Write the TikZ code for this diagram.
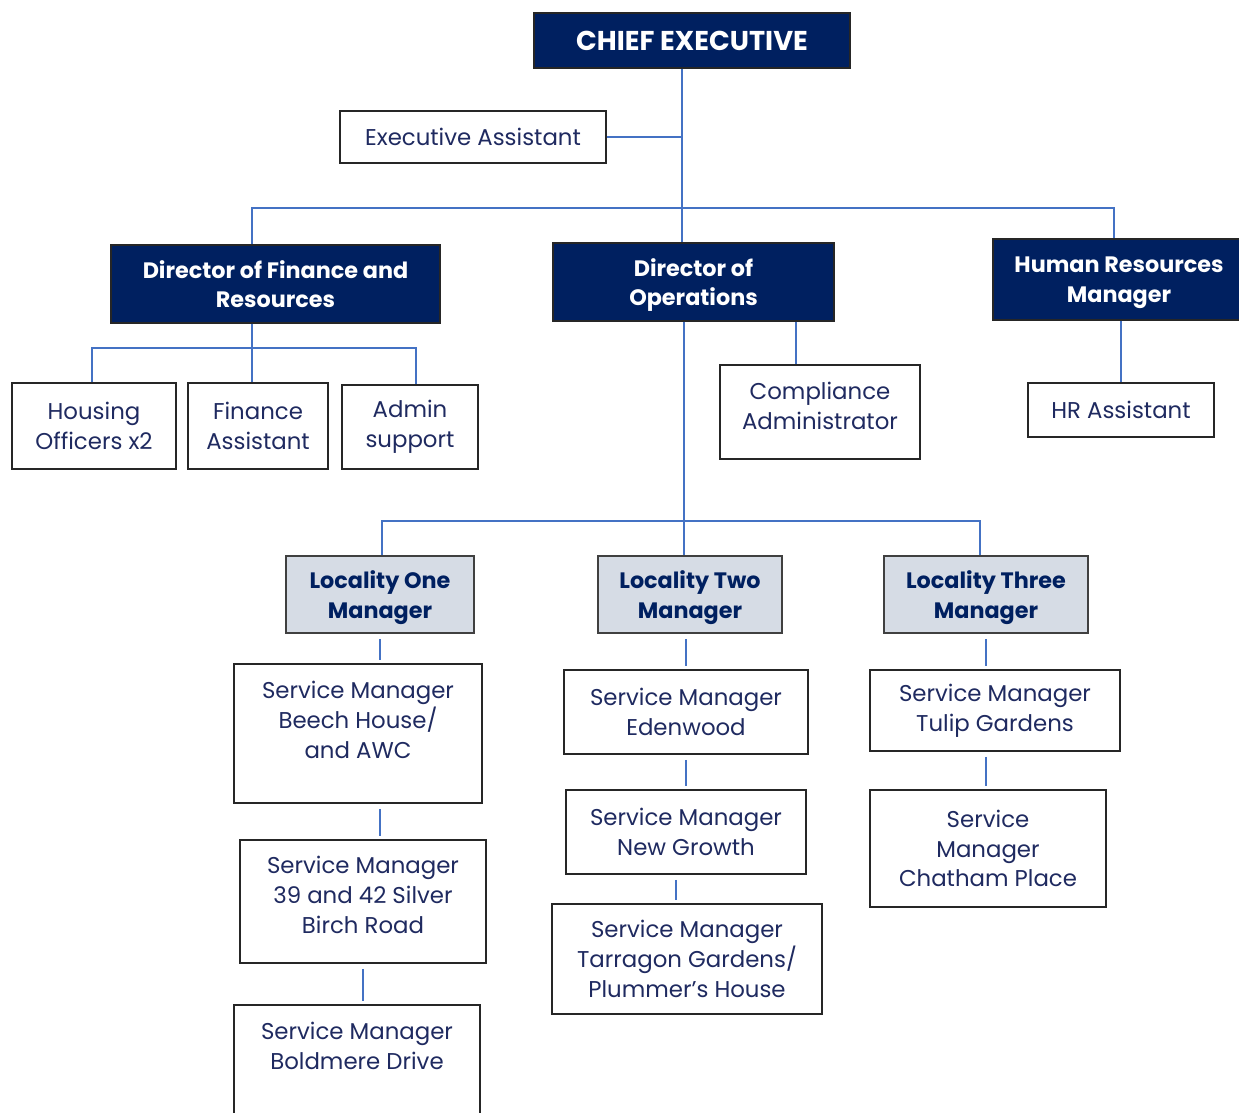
\documentclass[tikz,border=0pt]{standalone}
\usepackage{fontspec}
\setmainfont{Poppins}
\usetikzlibrary{positioning}

\definecolor{navy}{HTML}{002060}
\definecolor{paleblue}{HTML}{D6DCE5}
\definecolor{linkblue}{HTML}{4472C4}
\definecolor{inktext}{HTML}{1F2A60}

\begin{document}
\begin{tikzpicture}[x=0.02cm, y=-0.02cm, font=\fontsize{13}{17}\selectfont,
    wh/.style 2 args={minimum width=#1*0.02cm, minimum height=#2*0.02cm},
    head/.style={draw=black!85, fill=navy, text=white, align=center, line width=0.8pt,
        text depth=0pt, font=\fontsize{12.7}{17}\selectfont\bfseries},
    local/.style={draw=black!75, fill=paleblue, text=navy, align=center, line width=0.8pt,
        text depth=0pt, font=\fontsize{12.7}{17}\selectfont\bfseries},
    post/.style={draw=black!85, fill=white, text=inktext, align=center, line width=0.8pt},
    words/.style={text=inktext, align=center},
    link/.style={draw=linkblue, line width=0.9pt},
    gap/.style={shorten <=3pt, shorten >=2pt}]

    \useasboundingbox (0,0) rectangle (1239,1112);

    % Top
    \node[head, wh={316}{55}, font=\fontsize{15.5}{18}\selectfont\bfseries] (ce) at (692,40.5) {CHIEF EXECUTIVE};
    \node[post, wh={266}{52}] (ea) at (473,137) {Executive Assistant};

    % Directors
    \node[head, wh={329}{78}] (dfr) at (275.5,284) {Director of Finance and\\Resources};
    \node[head, wh={281}{78}] (doo) at (693.5,282) {Director of\\Operations};
    \node[head, wh={252}{81}] (hr) at (1119,279.5) {Human Resources\\Manager};

    % Finance team
    \node[post, wh={164}{86}] (ho) at (94,426) {Housing\\Officers x2};
    \node[post, wh={140}{86}] (fa) at (258,426) {Finance\\Assistant};
    \node[post, wh={136}{84}] (ad) at (410,427) {Admin\\support};

    % Operations and HR support
    \node[post, wh={200}{94}] (ca) at (820,412) {};
    \node[words] (catxt) at (820,406) {Compliance\\Administrator};
    \node[post, wh={186}{54}] (hra) at (1121,410) {HR Assistant};

    % Localities
    \node[local, wh={188}{77}] (l1) at (380,594.5) {Locality One\\Manager};
    \node[local, wh={184}{77}] (l2) at (690,594.5) {Locality Two\\Manager};
    \node[local, wh={204}{77}] (l3) at (986,594.5) {Locality Three\\Manager};

    % Locality One services
    \node[post, wh={248}{139}] (beech) at (358,733.5) {};
    \node[words] (beechtxt) at (358,720) {Service Manager\\Beech House/\\and AWC};
    \node[post, wh={246}{123}] (silver) at (363,901.5) {};
    \node[words] (silvertxt) at (363,895) {Service Manager\\39 and 42 Silver\\Birch Road};
    \node[post, wh={246}{120}] (bold) at (357,1065) {};
    \node[words] (boldtxt) at (357,1045.5) {Service Manager\\Boldmere Drive};

    % Locality Two services
    \node[post, wh={244}{84}] (eden) at (686,712) {Service Manager\\Edenwood};
    \node[post, wh={240}{84}] (ng) at (686,832) {Service Manager\\New Growth};
    \node[post, wh={270}{110}] (tarr) at (687,959) {Service Manager\\Tarragon Gardens/\\Plummer’s House};

    % Locality Three services
    \node[post, wh={250}{81}] (tulip) at (995,710.5) {Service Manager\\Tulip Gardens};
    \node[post, wh={236}{117}] (chat) at (988,848.5) {Service\\Manager\\Chatham Place};

    % Junctions
    \coordinate (trunk) at (682,208);
    \coordinate (busL) at (252,208);
    \coordinate (busR) at (1114,208);
    \coordinate (fj) at (252,348);
    \coordinate (fbL) at (92,348);
    \coordinate (fbR) at (416,348);
    \coordinate (caj) at (796,340);
    \coordinate (opsj) at (684,521);
    \coordinate (lbusL) at (382,521);
    \coordinate (lbusR) at (980,521);
    \coordinate (tj) at (676,890);

    % Connectors
    \draw[link] (ce.south -| trunk) -- (trunk |- doo.north);
    \draw[link] (ea.east) -- (ea.east -| trunk);
    \draw[link] (busL |- dfr.north) -- (busL) -- (busR) -- (busR |- hr.north);
    \draw[link] (dfr.south -| fj) -- (fj |- fa.north);
    \draw[link] (fbL |- ho.north) -- (fbL) -- (fbR) -- (fbR |- ad.north);
    \draw[link] (doo.south -| caj) -- (caj |- ca.north);
    \draw[link] (hr.south -| hra.north) -- (hra.north);
    \draw[link] (doo.south -| opsj) -- (opsj |- l2.north);
    \draw[link] (lbusL |- l1.north) -- (lbusL) -- (lbusR) -- (lbusR |- l3.north);

    \draw[link, gap] (l1.south) -- (l1.south |- beech.north);
    \draw[link, gap] (beech.south -| l1.south) -- (l1.south |- silver.north);
    \draw[link, gap] (silver.south) -- (silver.south |- bold.north);
    \draw[link, gap] (l2.south -| eden.north) -- (eden.north);
    \draw[link, gap] (eden.south) -- (ng.north);
    \draw[link, gap] (ng.south -| tj) -- (tj |- tarr.north);
    \draw[link, gap] (l3.south) -- (l3.south |- tulip.north);
    \draw[link, gap] (tulip.south -| l3.south) -- (l3.south |- chat.north);

\end{tikzpicture}
\end{document}
